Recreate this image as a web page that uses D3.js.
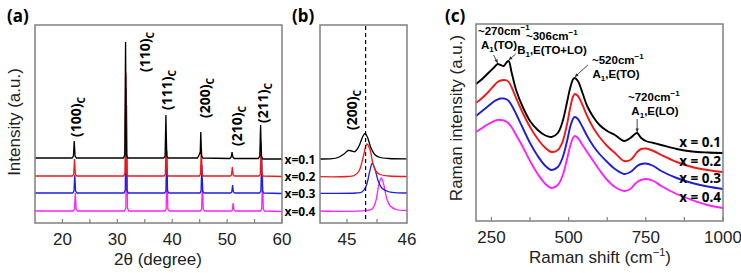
<!DOCTYPE html>
<html>
<head>
<meta charset="utf-8">
<title>XRD and Raman</title>
<script src="https://d3js.org/d3.v7.min.js"></script>
<style>
  body { margin: 0; background: #fff; }
  text { font-family: "Liberation Sans", Arial, sans-serif; }
  .bold { font-family: "Noto Sans", "Open Sans", sans-serif; font-weight: bold; }
  .note { font-family: "Liberation Sans", Arial, sans-serif; font-weight: bold; }
</style>
</head>
<body>
<div id="view"></div>
<script>
// ---- data ----
var seriesNames = ["x=0.1", "x=0.2", "x=0.3", "x=0.4"];
var seriesColors = ["#000000", "#f01a1a", "#1f1fd8", "#ff20ff"];

// panel (a): XRD patterns, [2theta, intensity a.u.]
var xrdBlack = [[15,65],[21.75,65],[22.0,67],[22.15,82],[22.3,67],[22.55,65],[31.1,65],[31.35,68],[31.5,181],[31.65,68],[31.9,65],[38.45,65],[38.7,67],[38.85,108],[39.0,67],[39.25,65],[44.6,65],[44.9,68],[45.02,70],[45.1,69],[45.2,91],[45.35,67],[45.6,65],[50.5,64.5],[50.75,66],[50.9,71],[51.05,66],[51.3,64.5],[55.7,64.5],[55.95,67],[56.1,98],[56.25,67],[56.5,64],[60,64]];
var xrdRed = [[15,47],[21.8,47],[22.05,49],[22.2,64],[22.35,49],[22.6,47],[31.15,47],[31.4,50],[31.55,150],[31.7,50],[31.95,47],[38.5,47],[38.75,49],[38.9,88],[39.05,49],[39.3,47],[44.95,47],[45.15,49],[45.3,75],[45.45,49],[45.7,47],[50.6,47],[50.8,48],[50.95,56],[51.1,48],[51.35,47],[55.8,47],[56.05,49],[56.2,80],[56.35,49],[56.6,47],[60,46.5]];
var xrdBlue = [[15,30],[21.85,30],[22.1,32],[22.25,48],[22.4,32],[22.65,30],[31.2,30],[31.45,33],[31.6,135],[31.75,33],[32.0,30],[38.6,30],[38.85,32],[39.0,72],[39.15,32],[39.4,30],[45.05,30],[45.25,32],[45.4,58],[45.55,32],[45.8,30],[50.65,30],[50.85,31],[51.0,38],[51.15,31],[51.4,30],[55.9,30],[56.15,32],[56.3,64],[56.45,32],[56.7,30],[60,29.5]];
var xrdMagenta = [[15,12],[21.95,12],[22.2,14],[22.35,30],[22.5,14],[22.75,12],[31.3,12],[31.55,15],[31.7,118],[31.85,15],[32.1,12],[38.65,12],[38.9,14],[39.05,55],[39.2,14],[39.45,12],[45.1,12],[45.35,14],[45.5,42],[45.65,14],[45.9,12],[50.75,12],[50.95,13],[51.1,20],[51.25,13],[51.5,12],[56.05,12],[56.3,14],[56.45,47],[56.6,14],[56.85,12],[60,11.5]];
var xrdPeakLabels = ["(100)", "(110)", "(111)", "(200)", "(210)", "(211)"];
var xrdTicks = [20, 25, 30, 35, 40, 45, 50, 55, 60];
var xrdTickLabels = [20, 30, 40, 50, 60];

// panel (b): zoom on (200)
var zoomBlack = [[44.55,64],[44.75,64.3],[44.85,65.5],[44.95,69],[45.02,72.5],[45.08,72],[45.13,71.3],[45.2,77],[45.26,86],[45.3,89.5],[45.34,86],[45.4,75],[45.47,68],[45.55,65.5],[45.7,64.5],[46,64.2]];
var zoomRed = [[44.55,46.3],[45.0,46.5],[45.12,47.5],[45.2,52],[45.27,66],[45.33,79],[45.38,74],[45.43,60],[45.48,52],[45.55,48.5],[45.7,47],[46,46.5]];
var zoomBlue = [[44.55,29.7],[45.15,30],[45.25,31],[45.32,37],[45.38,52],[45.42,59.5],[45.46,55],[45.52,42],[45.58,35],[45.68,31.5],[45.8,30.3],[46,30]];
var zoomMagenta = [[44.55,12],[45.3,12.3],[45.42,14],[45.48,22],[45.53,38],[45.57,45],[45.61,39],[45.66,25],[45.72,17],[45.82,13.5],[46,12.5]];
var zoomRef = 45.31;
var zoomTicks = [45, 45.5];
var zoomTickLabels = [45, 46];

// panel (c): Raman spectra
var ramanShift = [200,220,240,260,270,280,290,300,306,315,330,350,375,400,425,445,465,480,495,505,515,520,530,545,560,580,600,625,650,680,700,715,722,735,750,775,800,850,900,950,1000];
var ramanBlack = [137,142,148,154,157,156,155,159,160,149,131,115,100,91,85.5,84,88,99,119,133,142,143,140,128,115,104,96,90,86,80,83,87,88,83,80,78,76,72,69.5,68.5,68];
var ramanRed = [118,123,129,136,139,140.5,141,140.5,139,134,123,109,94,82,73,69,71,79,97,113,125,127,125,116,105,93,84,75,68,60,61,66,69,72,72.5,70,66,59,54,51,49];
var ramanBlue = [105,110,115,120,121.5,122.5,122.5,121.5,120,116,107,94,78,65,55,51,54,63,80,94,102.5,104,102,94,85,75,67,59,52,47,49,53,55,57,57.5,55,50,43,38,34.5,32];
var ramanMagenta = [89,93,97,100,101,101,100.5,99,97.5,94,86,75,60,47,37,33,36,45,62,75,83.5,85,83,76,69,60,51,41,34,30,32,37,39,41,42,40,35,27,21,16,13];
var ramanModes = [
  {shift: 270, line1: "~270cm", line2: "A1(TO)"},
  {shift: 306, line1: "~306cm", line2: "B1,E(TO+LO)"},
  {shift: 520, line1: "~520cm", line2: "A1,E(TO)"},
  {shift: 722, line1: "~720cm", line2: "A1,E(LO)"}
];
var ramanTicks = [250, 375, 500, 625, 750, 875, 1000];
var ramanTickLabels = [250, 500, 750, 1000];

// ---- drawing ----
var width = 741, height = 273;
var svg = d3.select("#view").append("svg")
  .attr("width", width).attr("height", height);

var frameColor = "#808080";

function frame(x0, x1, y0, y1) {
  svg.append("rect").attr("x", x0).attr("y", y0)
    .attr("width", x1 - x0).attr("height", y1 - y0)
    .attr("fill", "none").attr("stroke", frameColor).attr("stroke-width", 1.5);
}

function bottomTicks(x, ticks, labels, y1) {
  var g = svg.append("g");
  g.selectAll("line").data(ticks).enter().append("line")
    .attr("x1", d => x(d)).attr("x2", d => x(d))
    .attr("y1", y1).attr("y2", y1 - 4)
    .attr("stroke", frameColor).attr("stroke-width", 1.2);
  g.selectAll("text").data(labels).enter().append("text")
    .attr("x", d => x(d)).attr("y", y1 + 22)
    .attr("text-anchor", "middle").attr("font-size", 17).attr("fill", "#222")
    .text(d => d);
}

// label with subscript
function subLabel(g, main, sub, size) {
  g.append("tspan").text(main);
  g.append("tspan").attr("font-size", size * 0.72).attr("dy", size * 0.25).text(sub);
}

// panel a
var xa = d3.scaleLinear().domain([15, 60]).range([35, 282]);
var ya = d3.scaleLinear().domain([0, 198]).range([223, 25]);
var xrdSeries = [xrdBlack, xrdRed, xrdBlue, xrdMagenta];
var lineA = d3.line().x(d => xa(d[0])).y(d => ya(d[1]));
for (var i = xrdSeries.length - 1; i >= 0; i--) {
  svg.append("path").attr("d", lineA(xrdSeries[i]))
    .attr("fill", "none").attr("stroke", seriesColors[i]).attr("stroke-width", 1.3);
}
frame(35, 282, 25, 223);
bottomTicks(xa, xrdTicks, xrdTickLabels, 223);

var peakLabelPos = [[76, 137], [145, 72], [167, 110], [205, 118], [237, 146], [263, 123]];
xrdPeakLabels.forEach(function (lab, k) {
  var t = svg.append("text").attr("class", "bold").attr("font-size", 14)
    .attr("transform", "translate(" + (peakLabelPos[k][0] + 5) + "," + peakLabelPos[k][1] + ") rotate(-90)");
  subLabel(t, lab, "C", 14);
});

svg.append("text").attr("transform", "translate(20,122) rotate(-90)")
  .attr("text-anchor", "middle").attr("font-size", 17).attr("fill", "#222")
  .text("Intensity (a.u.)");
svg.append("text").attr("x", 158).attr("y", 265)
  .attr("text-anchor", "middle").attr("font-size", 17).attr("fill", "#222")
  .text("2\u03b8 (degree)");

// panel b
var xb = d3.scaleLinear().domain([44.55, 46]).range([320, 407]);
var zoomSeries = [zoomBlack, zoomRed, zoomBlue, zoomMagenta];
var lineB = d3.line().x(d => xb(d[0])).y(d => ya(d[1])).curve(d3.curveCatmullRom);
for (var j = zoomSeries.length - 1; j >= 0; j--) {
  svg.append("path").attr("d", lineB(zoomSeries[j]))
    .attr("fill", "none").attr("stroke", seriesColors[j]).attr("stroke-width", 1.3);
}
svg.append("line").attr("x1", xb(zoomRef)).attr("x2", xb(zoomRef))
  .attr("y1", 26).attr("y2", 222)
  .attr("stroke", "#000").attr("stroke-width", 1.2).attr("stroke-dasharray", "4,3");
frame(320, 407, 25, 223);
bottomTicks(xb, zoomTicks, zoomTickLabels, 223);
var tb = svg.append("text").attr("class", "bold").attr("font-size", 14)
  .attr("transform", "translate(357,130) rotate(-90)");
subLabel(tb, "(200)", "C", 14);

// series labels between a and b
svg.selectAll(".xlabA").data(seriesNames).enter().append("text")
  .attr("class", "bold").attr("font-size", 12)
  .attr("x", 300).attr("y", (d, k) => ya(zoomSeries[k][0][1]) + 4.5)
  .attr("text-anchor", "middle").text(d => d);

// panel c
var xc = d3.scaleLinear().domain([200, 1000]).range([476, 723]);
var yc = d3.scaleLinear().domain([0, 197]).range([221, 24]);
var ramanSeries = [ramanBlack, ramanRed, ramanBlue, ramanMagenta];
var lineC = d3.line().x((d, k) => xc(ramanShift[k])).y(d => yc(d)).curve(d3.curveCatmullRom);
for (var m = ramanSeries.length - 1; m >= 0; m--) {
  svg.append("path").attr("d", lineC(ramanSeries[m]))
    .attr("fill", "none").attr("stroke", seriesColors[m]).attr("stroke-width", 1.9);
}
frame(476, 723, 24, 221);
bottomTicks(xc, ramanTicks, ramanTickLabels, 221);

svg.selectAll(".xlabC").data(seriesNames).enter().append("text")
  .attr("class", "bold").attr("font-size", 13.5)
  .attr("x", 721).attr("y", (d, k) => yc(ramanSeries[k][ramanSeries[k].length - 1]) - 6)
  .attr("text-anchor", "end").attr("xml:space", "preserve")
  .text(d => d.replace("=", " = "));

// mode annotations: [line1 x, line1 baseline, line2 centre x]
var modeText = [[478, 35, 499], [526, 40, 552], [592, 64, 616], [628, 101, 655]];
var arrowFrom = [[-4, -8], [7, -6], [13, -12], [0, -13]];
ramanModes.forEach(function (md, k) {
  var idx = ramanShift.indexOf(md.shift);
  var tipX = xc(md.shift), tipY = yc(ramanBlack[idx]) - 1;
  var t1 = svg.append("text").attr("class", "note").attr("font-size", 11.5)
    .attr("x", modeText[k][0]).attr("y", modeText[k][1]);
  t1.append("tspan").text(md.line1);
  t1.append("tspan").attr("font-size", 8).attr("dy", -5).text("\u22121");
  var t2 = svg.append("text").attr("class", "note").attr("font-size", 11.5)
    .attr("x", modeText[k][2]).attr("y", modeText[k][1] + 13.5).attr("text-anchor", "middle");
  var parts = md.line2.split("1");
  t2.append("tspan").text(parts[0]);
  t2.append("tspan").attr("font-size", 8).attr("dy", 3).text("1");
  t2.append("tspan").attr("dy", -3).text(parts[1]);
  var fx = tipX + arrowFrom[k][0], fy = tipY + arrowFrom[k][1];
  svg.append("line").attr("x1", fx).attr("y1", fy).attr("x2", tipX).attr("y2", tipY)
    .attr("stroke", "#333").attr("stroke-width", 0.9);
  var ang = Math.atan2(tipY - fy, tipX - fx);
  var hl = 4;
  svg.append("path")
    .attr("d", "M" + tipX + "," + tipY +
      "L" + (tipX - hl * Math.cos(ang - 0.45)) + "," + (tipY - hl * Math.sin(ang - 0.45)) +
      "L" + (tipX - hl * Math.cos(ang + 0.45)) + "," + (tipY - hl * Math.sin(ang + 0.45)) + "Z")
    .attr("fill", "#333");
});

svg.append("text").attr("transform", "translate(462,118) rotate(-90)")
  .attr("text-anchor", "middle").attr("font-size", 17).attr("fill", "#222")
  .text("Raman intensity (a.u.)");
var xl = svg.append("text").attr("x", 600).attr("y", 263)
  .attr("text-anchor", "middle").attr("font-size", 17).attr("fill", "#222");
xl.append("tspan").text("Raman shift (cm");
xl.append("tspan").attr("font-size", 11).attr("dy", -7).text("\u22121");
xl.append("tspan").attr("dy", 7).text(")");

// panel titles
[["(a)", 7], ["(b)", 292], ["(c)", 445]].forEach(function (p) {
  svg.append("text").attr("class", "bold").attr("font-size", 17)
    .attr("x", p[1]).attr("y", 22).text(p[0]);
});
</script>
</body>
</html>
